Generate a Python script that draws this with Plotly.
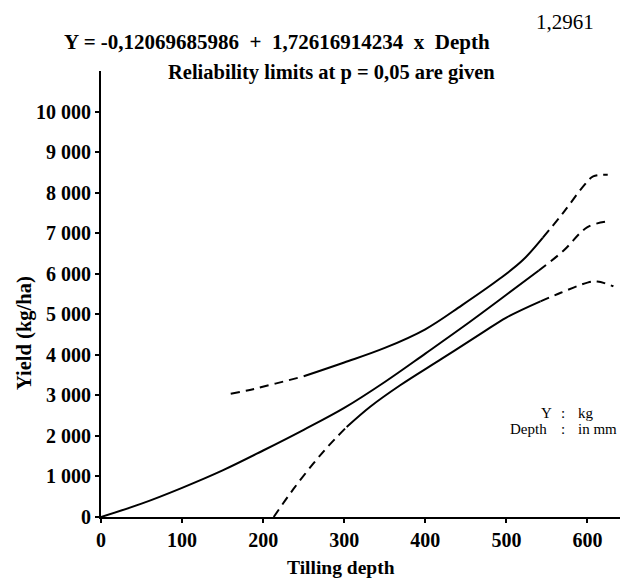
import plotly.graph_objects as go

# ---- data ----
depth_fit = [0, 50, 100, 150, 200, 250, 300, 350, 400, 450, 500, 540, 570, 600, 625]
yield_fit = [0, 330, 720, 1150, 1640, 2150, 2690, 3330, 4030, 4740, 5480, 6080, 6560, 7150, 7290]

depth_upper = [160, 185, 215, 250, 300, 350, 400, 445, 490, 520, 545, 570, 595, 607, 625]
yield_upper = [3040, 3140, 3290, 3470, 3810, 4170, 4630, 5220, 5850, 6330, 6890, 7500, 8160, 8400, 8440]

depth_lower = [213, 237, 262, 280, 303, 332, 369, 420, 470, 500, 542, 567, 600, 612, 632]
yield_lower = [0, 680, 1320, 1740, 2220, 2720, 3250, 3900, 4540, 4920, 5320, 5530, 5780, 5810, 5690]

x_ticks = [0, 100, 200, 300, 400, 500, 600]
x_tick_labels = ["0", "100", "200", "300", "400", "500", "600"]
y_ticks = [0, 1000, 2000, 3000, 4000, 5000, 6000, 7000, 8000, 9000, 10000]
y_tick_labels = ["0", "1 000", "2 000", "3 000", "4 000", "5 000", "6 000",
                 "7 000", "8 000", "9 000", "10 000"]

# segments of each curve: (x, y, start, end, dash)
DASH = "9px,6px"
segments = [
    (depth_fit, yield_fit, 0, 11, "solid"),
    (depth_fit, yield_fit, 11, 14, DASH),
    (depth_upper, yield_upper, 0, 3, DASH),
    (depth_upper, yield_upper, 3, 10, "solid"),
    (depth_upper, yield_upper, 10, 14, DASH),
    (depth_lower, yield_lower, 0, 4, DASH),
    (depth_lower, yield_lower, 4, 10, "solid"),
    (depth_lower, yield_lower, 10, 14, DASH),
]

fig = go.Figure()
for xs, ys, a, b, dash in segments:
    fig.add_trace(go.Scatter(
        x=xs[a:b + 1], y=ys[a:b + 1], mode="lines",
        line=dict(color="black", width=2, dash=dash, shape="spline", smoothing=1.0),
        showlegend=False, hoverinfo="skip"))

SERIF = "Liberation Serif, Times New Roman, serif"

# the page body has an 8px margin, so the figure is 8px smaller
OFF = 8
fig.update_layout(
    width=628 - OFF, height=580 - OFF,
    margin=dict(l=101 - OFF, r=0, t=71 - OFF, b=63),
    paper_bgcolor="white", plot_bgcolor="white",
    font=dict(family=SERIF, color="black"),
    xaxis=dict(range=[0, 650], tickvals=x_ticks, ticktext=x_tick_labels,
               showline=True, linecolor="black", linewidth=2,
               ticks="outside", ticklen=4, tickwidth=1.5, tickcolor="black",
               showgrid=False, zeroline=False,
               tickfont=dict(family=SERIF, size=20, color="black", weight="bold")),
    yaxis=dict(range=[0, 11000], tickvals=y_ticks, ticktext=y_tick_labels,
               showline=True, linecolor="black", linewidth=2,
               ticks="outside", ticklen=4, tickwidth=1.5, tickcolor="black",
               showgrid=False, zeroline=False,
               tickfont=dict(family=SERIF, size=20, color="black", weight="bold")),
)

def px2paper(px, py):
    return (px - 101) / 527.0, (517 - py) / 446.0

def ann(text, px, py, size, xanchor="left", bold=True, angle=0):
    x, y = px2paper(px, py)
    fig.add_annotation(text=text, x=x, y=y, xref="paper", yref="paper",
                       xanchor=xanchor, yanchor="middle", showarrow=False,
                       textangle=angle,
                       font=dict(family=SERIF, size=size, color="black",
                                 weight="bold" if bold else "normal"))

ann("Y = -0,12069685986  +  1,72616914234  x  Depth", 62, 42, 21)
ann("1,2961", 565, 22, 21, xanchor="center", bold=False)
ann("Reliability limits at p = 0,05 are given", 166, 72, 20.5)
ann("Yield (kg/ha)", 25, 333, 20.5, xanchor="center", angle=-90)
ann("Tilling depth", 341, 567, 19.5, xanchor="center")

ann("Y", 554, 413, 15, xanchor="right", bold=False)
ann(":", 563, 413, 15, xanchor="center", bold=False)
ann("kg", 576, 413, 15, bold=False)
ann("Depth", 549, 429, 15, xanchor="right", bold=False)
ann(":", 563, 429, 15, xanchor="center", bold=False)
ann("in mm", 576, 429, 15, bold=False)

fig.write_html("out.html")
